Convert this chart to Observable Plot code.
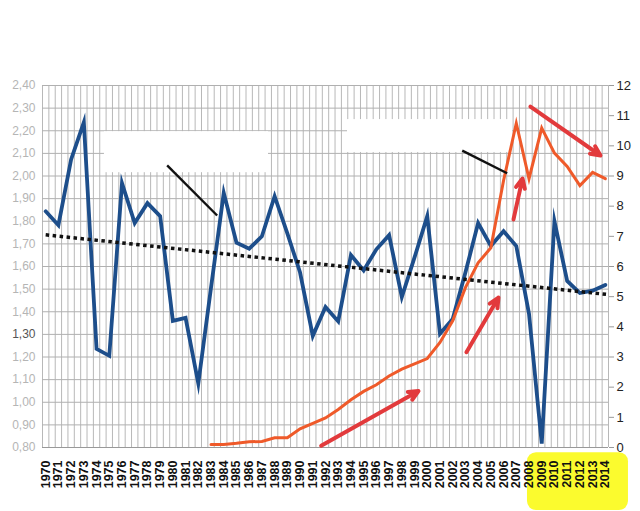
<!DOCTYPE html>
<html><head><meta charset="utf-8">
<script src="https://cdn.jsdelivr.net/npm/d3@7"></script>
<script src="https://cdn.jsdelivr.net/npm/@observablehq/plot@0.6"></script>
<style>body{margin:0;background:#fff;} svg{display:block;}</style>
</head><body><div id="chart"></div>
<script>
// ---- data ----
const years = d3.range(1970, 2015);
const blueValues = [7.83, 7.37, 9.55, 10.78, 3.27, 3.04, 8.76, 7.44, 8.10, 7.67,
  4.20, 4.30, 2.12, 5.30, 8.44, 6.79, 6.59, 7.00, 8.33, 7.10,
  5.80, 3.70, 4.66, 4.18, 6.38, 5.87, 6.57, 7.04, 4.99, 6.30,
  7.67, 3.77, 4.26, 5.80, 7.44, 6.68, 7.17, 6.68, 4.43, 0.13,
  7.50, 5.52, 5.12, 5.20, 5.39];
const orangeYears = d3.range(1983, 2015);
const orangeValues = [0.10, 0.10, 0.14, 0.19, 0.20, 0.32, 0.32, 0.62,
  0.80, 0.98, 1.26, 1.58, 1.86, 2.08, 2.37, 2.60,
  2.77, 2.95, 3.48, 4.20, 5.30, 6.12, 6.62, 8.85,
  10.75, 8.91, 10.59, 9.76, 9.32, 8.68, 9.12, 8.91];
const trendLine = [{x: 1970.0, y: 7.05}, {x: 2014.2, y: 5.07}];
const rightTicks = [0,1,2,3,4,5,6,7,8,9,10,11,12];
const leftLabels = ["0,80","0,90","1,00","1,10","1,20","1,30","1,40","1,50","1,60",
  "1,70","1,80","1,90","2,00","2,10","2,20","2,30","2,40"];
const leftReadable = ["1,30"];
// annotations (data units)
const redArrows = [
  {x1: 1991.66, y1: 0.06, x2: 1999.31, y2: 1.87},
  {x1: 2003.08, y1: 3.16, x2: 2005.60, y2: 4.97},
  {x1: 2006.78, y1: 7.56, x2: 2007.49, y2: 8.92},
  {x1: 2008.11, y1: 11.30, x2: 2013.62, y2: 9.68}
];
const blackPointers = [
  {x1: 1979.55, y1: 9.35, x2: 1983.48, y2: 7.69},
  {x1: 2002.75, y1: 9.84, x2: 2006.28, y2: 9.09}
];
const whiteBoxes = [
  {x1: 1974.62, x2: 1987.52, y1: 9.11, y2: 10.47},
  {x1: 1993.73, x2: 2006.70, y1: 9.78, y2: 10.87}
];
const highlight = [{x1: 2007.88, x2: 2015.82, y1: -0.17, y2: -2.09}];

// ---- derived tables ----
const blue = years.map((y, i) => ({year: y, v: blueValues[i]}));
const orange = orangeYears.map((y, i) => ({year: y, v: orangeValues[i]}));
const vGrid = d3.range(1969.75, 2014.26, 0.5);
const hGrid = d3.range(0, 12.001, 0.75);
const left = leftLabels.map((t, i) => ({t, y: i * 0.75}));
const leftFaint = left.filter(d => !leftReadable.includes(d.t));
const leftDark = left.filter(d => leftReadable.includes(d.t));

const chart = Plot.plot({
  width: 640, height: 511,
  marginTop: 85, marginBottom: 64, marginLeft: 42, marginRight: 32,
  style: {fontFamily: "'Liberation Sans', Arial, sans-serif", background: "#fff"},
  x: {domain: [1969.75, 2014.25], axis: null},
  y: {domain: [0, 12], axis: null},
  marks: [
    Plot.rect(highlight, {x1: "x1", x2: "x2", y1: "y1", y2: "y2", fill: "#fbfb2e", rx: 9}),
    Plot.ruleX(vGrid, {stroke: "#b8b8b8", strokeWidth: 1}),
    Plot.ruleY(hGrid, {stroke: "#b0b0b0", strokeWidth: 1}),
    Plot.ruleY([0], {stroke: "#999", strokeWidth: 1}),
    Plot.rect(whiteBoxes, {x1: "x1", x2: "x2", y1: "y1", y2: "y2", fill: "#fff"}),
    Plot.line(blue, {x: "year", y: "v", stroke: "#1d4e8b", strokeWidth: 3.8, strokeLinejoin: "miter", strokeMiterlimit: 10}),
    Plot.line(orange, {x: "year", y: "v", stroke: "#ef5a2a", strokeWidth: 3, strokeLinejoin: "miter", strokeMiterlimit: 10}),
    Plot.line(trendLine, {x: "x", y: "y", stroke: "#111", strokeWidth: 3.5, strokeDasharray: "3.5,3.5", strokeLinecap: "butt"}),
    Plot.link(blackPointers, {x1: "x1", y1: "y1", x2: "x2", y2: "y2", stroke: "#111", strokeWidth: 2.4}),
    Plot.arrow(redArrows, {x1: "x1", y1: "y1", x2: "x2", y2: "y2", stroke: "#e23a3c", strokeWidth: 4, headLength: 4, headAngle: 50}),
    Plot.axisY({anchor: "right", ticks: rightTicks, tickSize: 5, tickPadding: 3, fontSize: 13, stroke: "#999", fill: "#222", label: null}),
    Plot.text(leftFaint, {y: "y", text: "t", frameAnchor: "left", dx: -7, textAnchor: "end", fontSize: 12, fill: "#b5b5b5"}),
    Plot.text(leftDark, {y: "y", text: "t", frameAnchor: "left", dx: -7, textAnchor: "end", fontSize: 12, fill: "#555"}),
    Plot.text(years, {x: d => d, text: d => String(d), frameAnchor: "bottom", dy: 13, rotate: -90,
      textAnchor: "end", lineAnchor: "middle", fontSize: 12.5, fontWeight: "bold", fill: "#111",
      ariaLabel: "year labels"})
  ]
});
document.getElementById("chart").appendChild(chart);
d3.select(chart).selectAll('g[aria-label="year labels"] text')
  .attr("textLength", 43).attr("lengthAdjust", "spacingAndGlyphs");
</script></body></html>
